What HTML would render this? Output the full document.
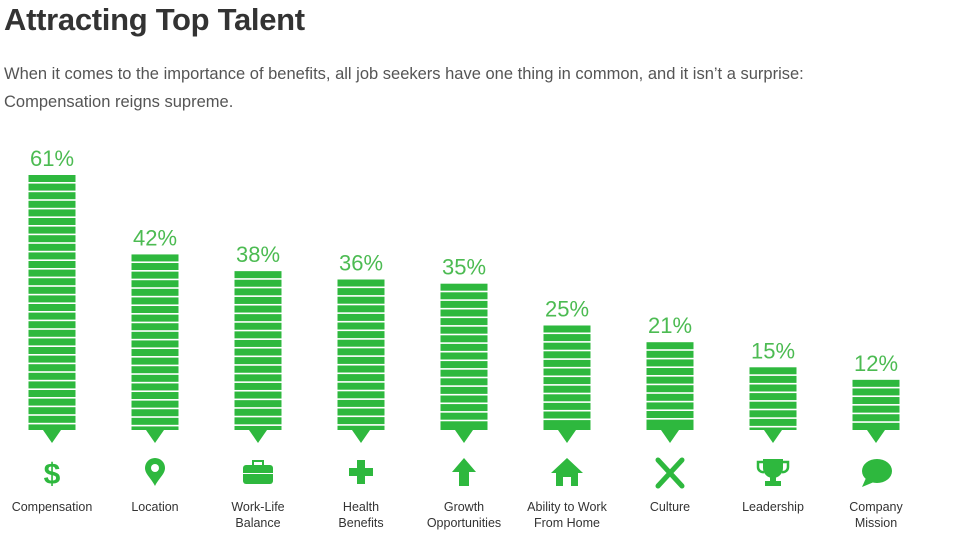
<!DOCTYPE html>
<html><head><meta charset="utf-8"><style>
body{margin:0;background:#fff;font-family:"Liberation Sans",sans-serif;}
#wrap{position:relative;width:970px;height:543px;overflow:hidden;}
h1{position:absolute;left:4px;top:2px;margin:0;font-size:31px;font-weight:bold;color:#333;letter-spacing:-0.3px;}
p{position:absolute;left:4px;top:60px;margin:0;font-size:16.5px;line-height:28px;color:#555;width:960px;}
</style></head><body>
<div id="wrap">
<h1>Attracting Top Talent</h1>
<p>When it comes to the importance of benefits, all job seekers have one thing in common, and it isn’t a surprise:<br>Compensation reigns supreme.</p>
<svg id="chart" width="970" height="543" style="position:absolute;left:0;top:0"></svg>
</div>
<script>
const categories=["Compensation","Location","Work-Life|Balance","Health|Benefits","Growth|Opportunities","Ability to Work|From Home","Culture","Leadership","Company|Mission"];
const values=[61,42,38,36,35,25,21,15,12];
const valueLabels=["61%","42%","38%","36%","35%","25%","21%","15%","12%"];
const icons=["$","pin","case","plus","arrow","home","fork","cup","chat"];
const NS="http://www.w3.org/2000/svg";
const svg=document.getElementById('chart');
const baseY=430, pxPer=255/61, x0=52, step=103, bw=47;
function xScale(i){return x0+i*step;}
function yScale(v){return baseY-v*pxPer;}
function mk(tag,attrs,parent){const e=document.createElementNS(NS,tag);for(const k in attrs)e.setAttribute(k,attrs[k]);(parent||svg).appendChild(e);return e;}
const G="#2eb83e";
values.forEach((v,i)=>{
  const cx=xScale(i), top=yScale(v);
  const g=mk('g',{});
  
  
  mk('rect',{x:cx-bw/2,y:top,width:bw,height:baseY-top,fill:G},g);
  for(let y=top+7;y<baseY-4;y+=8.6){mk('rect',{x:cx-bw/2,y:y,width:bw,height:1.6,fill:'#fff'},g);}
  mk('polygon',{points:`${cx-9},${baseY} ${cx+9},${baseY} ${cx},${baseY+13}`,fill:G},g);
  const t=mk('text',{x:cx,y:top-9,'text-anchor':'middle','font-size':22,fill:'#4cbb52','font-family':'Liberation Sans, sans-serif'});
  t.textContent=valueLabels[i];
  
  
  const ic=mk('g',{transform:`translate(${cx},472)`});
  
  
  const k=icons[i];
  if(k==='$'){const s=mk('text',{x:0,y:12,'text-anchor':'middle','font-size':30,'font-weight':'bold',fill:G},ic);s.textContent='$';}
  if(k==='pin'){mk('path',{d:'M0,14 C-4,6 -10,2 -10,-4 A10,10 0 0 1 10,-4 C10,2 4,6 0,14Z',fill:G},ic);mk('circle',{cx:0,cy:-4,r:4,fill:'#fff'},ic);}
  if(k==='case'){mk('rect',{x:-15,y:-7,width:30,height:19,rx:3,fill:G},ic);mk('rect',{x:-5,y:-11,width:10,height:5,fill:'none',stroke:G,'stroke-width':2},ic);mk('rect',{x:-15,y:1,width:30,height:1,fill:'#fff'},ic);}
  if(k==='plus'){mk('rect',{x:-4,y:-12,width:8,height:24,fill:G},ic);mk('rect',{x:-12,y:-4,width:24,height:8,fill:G},ic);}
  if(k==='arrow'){mk('polygon',{points:'0,-14 12,0 5,0 5,14 -5,14 -5,0 -12,0',fill:G},ic);}
  if(k==='home'){mk('polygon',{points:'0,-14 16,1 11,1 11,14 4,14 4,5 -4,5 -4,14 -11,14 -11,1 -16,1',fill:G},ic);}
  if(k==='fork'){mk('path',{d:'M-12,-12 L12,14 M12,-12 L-12,14',stroke:G,'stroke-width':5,'stroke-linecap':'round'},ic);}
  if(k==='cup'){mk('path',{d:'M-10,-13 H10 V-4 A10,10 0 0 1 -10,-4Z M-3,5 H3 V9 H8 V14 H-8 V9 H-3Z',fill:G},ic);mk('path',{d:'M-10,-10 H-15 V-5 A5,5 0 0 0 -9,0 M10,-10 H15 V-5 A5,5 0 0 1 9,0',fill:'none',stroke:G,'stroke-width':2.5},ic);}
  if(k==='chat'){mk('ellipse',{cx:1,cy:-1,rx:15,ry:12,fill:G},ic);mk('polygon',{points:'-10,6 -14,15 -2,10',fill:G},ic);}
  const lines=categories[i].split('|');
  lines.forEach((ln,j)=>{const lt=mk('text',{x:cx,y:511+j*16,'text-anchor':'middle','font-size':12.5,fill:'#333'});lt.textContent=ln;
    
    });
});
</script>
</body></html>
